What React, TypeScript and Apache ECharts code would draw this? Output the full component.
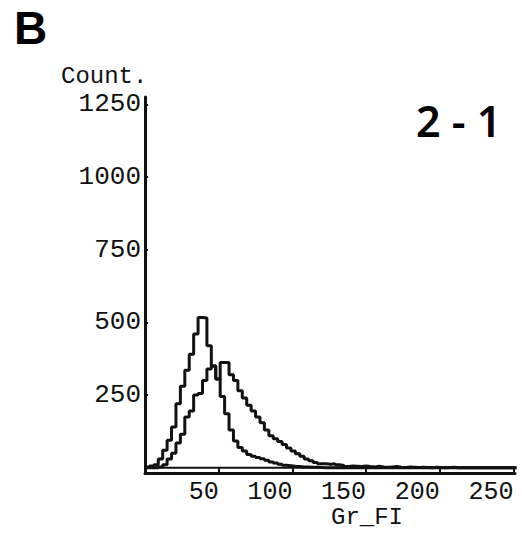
import React, { useEffect, useRef } from "react";
import * as echarts from "echarts";

// Histogram channel bins (Gr_FI), 3 channels per bin
const binWidth = 3;
const binCount = 84;
const binStarts: number[] = Array.from({ length: binCount }, (_, i) => i * binWidth);

// Left (taller) histogram counts
const countsA: number[] = [
  3, 6, 10, 30, 60, 95, 140, 220, 280, 335,
  390, 460, 517, 515, 420, 350, 305, 245, 186, 130,
  92, 70, 58, 46, 40, 35, 31, 26, 20, 16,
  12, 9, 7, 5, 4, 3, 3, 2, 2, 1,
  0, 0, 0, 0, 0, 0, 0, 0, 0, 0,
  0, 0, 0, 0, 0, 0, 0, 0, 0, 0,
  0, 0, 0, 0, 0, 0, 0, 0, 0, 0,
  0, 0, 0, 0, 0, 0, 0, 0, 0, 0,
  0, 0, 0, 0,
];

// Right (shifted) histogram counts
const countsB: number[] = [
  0, 0, 0, 3, 10, 30, 50, 85, 115, 175,
  195, 250, 255, 300, 340, 350, 305, 362, 362, 320,
  300, 265, 240, 215, 195, 175, 155, 130, 110, 100,
  90, 80, 68, 58, 48, 40, 30, 24, 18, 14,
  14, 12, 14, 10, 8, 4, 6, 5, 4, 6,
  4, 3, 5, 3, 2, 3, 4, 2, 1, 3,
  2, 1, 2, 1, 0, 2, 1, 0, 1, 2,
  0, 1, 0, 0, 0, 0, 0, 0, 0, 0,
  0, 0, 0, 0,
];

const yTicks: number[] = [250, 500, 750, 1000, 1250];
const xTicks: number[] = [50, 100, 150, 200, 250];

const toSteps = (counts: number[]) => {
  const pts: [number, number][] = binStarts.map((x, i) => [x, counts[i]]);
  pts.push([binStarts[binCount - 1] + binWidth, 0]);
  return pts;
};

export default function App() {
  const ref = useRef<HTMLDivElement>(null);
  useEffect(() => {
    if (!ref.current) return;
    const chart = echarts.init(ref.current, null, { renderer: "svg" });
    const mono = "Liberation Mono";
    const ink = "#111";
    chart.setOption({
      animation: false,
      backgroundColor: "#fff",
      grid: { left: 145, right: 7, top: 97, bottom: 60, containLabel: false },
      xAxis: {
        type: "value",
        min: 0,
        max: 251,
        axisLine: { show: true, onZero: false, lineStyle: { color: ink, width: 3 } },
        axisTick: { show: true, inside: true, length: 5, customValues: xTicks, lineStyle: { color: ink, width: 2 } },
        axisLabel: {
          customValues: xTicks,
          formatter: (v: number) => String(v),
          color: ink,
          fontFamily: mono,
          fontSize: 25,
          lineHeight: 24,
          align: "right",
          margin: 7,
        },
        splitLine: { show: false },
      },
      yAxis: {
        type: "value",
        min: -18,
        max: 1275,
        axisLine: { show: true, onZero: false, lineStyle: { color: ink, width: 3 } },
        axisTick: { show: true, inside: true, length: 3, customValues: yTicks, lineStyle: { color: ink, width: 2 } },
        axisLabel: {
          customValues: yTicks,
          formatter: (v: number) => String(v),
          color: ink,
          fontFamily: mono,
          fontSize: 26,
          margin: 4,
        },
        splitLine: { show: false },
      },
      series: [
        {
          type: "line",
          data: [[0, 0], [251, 0]],
          symbol: "none",
          lineStyle: { color: ink, width: 2 },
          silent: true,
        },
        {
          type: "line",
          step: "end",
          data: toSteps(countsA),
          symbol: "none",
          lineStyle: { color: ink, width: 3 },
        },
        {
          type: "line",
          step: "end",
          data: toSteps(countsB),
          symbol: "none",
          lineStyle: { color: ink, width: 3 },
        },
      ],
      graphic: [
        {
          type: "text",
          left: 14,
          top: 5,
          style: { text: "B", fontSize: 46, fontWeight: "bold", fontFamily: "Liberation Sans", fill: "#000" },
        },
        {
          type: "text",
          left: 61,
          top: 64,
          style: { text: "Count.", fontSize: 24, fontFamily: mono, fill: ink },
        },
        {
          type: "text",
          left: 416,
          top: 99,
          style: { text: "2 - 1", fontSize: 43, fontWeight: 600, fontFamily: "Noto Sans", fill: "#000" },
        },
        {
          type: "text",
          left: 331,
          top: 505,
          style: { text: "Gr_FI", fontSize: 24, lineHeight: 22, fontFamily: mono, fill: ink },
        },
      ],
    });
    return () => chart.dispose();
  }, []);
  return <div ref={ref} style={{ width: 522, height: 533, position: "absolute", left: 0, top: 0 }} />;
}
